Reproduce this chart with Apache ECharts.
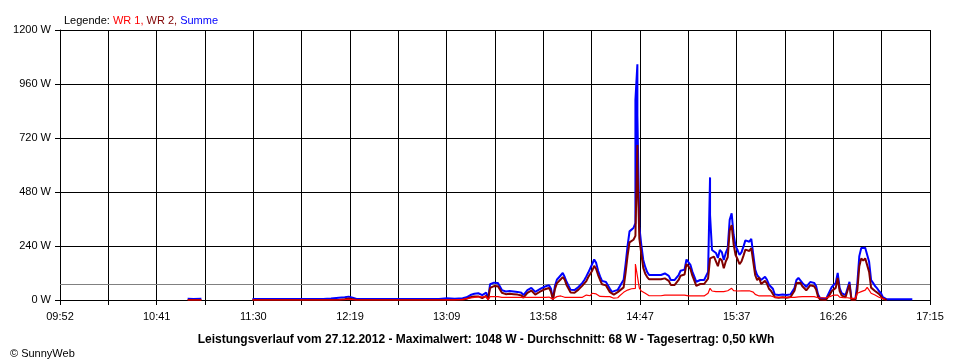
<!DOCTYPE html>
<html>
<head>
<meta charset="utf-8">
<script src="https://cdn.jsdelivr.net/npm/echarts@6/dist/echarts.min.js"></script>
<style>
html,body{margin:0;padding:0;background:#fff;}
#chart{width:960px;height:360px;}
</style>
</head>
<body>
<div id="chart"></div>
<script>
// Time axis tick labels (every second vertical grid line)
const tickLabels = ["09:52","10:41","11:30","12:19","13:09","13:58","14:47","15:37","16:26","17:15"];
const yTicks = [0, 240, 480, 720, 960, 1200];
const average = 68;

const times = [
"10:57","11:00","11:04","11:05","11:30","11:45","12:00","12:06","12:07","12:10",
"12:14","12:17","12:19","12:21","12:23","12:40","13:00","13:05","13:09","13:13",
"13:17","13:19","13:21","13:23","13:25","13:27","13:29","13:30","13:31","13:33",
"13:35","13:36","13:37","13:39","13:41","13:43","13:45","13:47","13:48","13:50",
"13:52","13:54","13:55","13:57","13:59","14:00","14:01","14:02","14:03","14:04",
"14:05","14:07","14:08","14:09","14:10","14:12","14:14","14:16","14:18","14:19",
"14:20","14:21","14:22","14:23","14:24","14:25","14:26","14:27","14:28","14:30",
"14:32","14:33","14:34","14:36","14:37","14:39","14:40","14:41","14:42","14:43",
"14:44","14:45","14:45","14:46","14:46","14:46","14:47","14:48","14:49","14:50",
"14:51","14:52","14:55","14:58","15:00","15:02","15:03","15:05","15:07","15:08",
"15:10","15:11","15:12","15:13","15:14","15:15","15:16","15:17","15:18","15:19",
"15:20","15:21","15:22","15:23","15:23","15:24","15:25","15:26","15:27","15:28",
"15:29","15:30","15:31","15:32","15:33","15:34","15:35","15:36","15:37","15:38",
"15:39","15:40","15:41","15:42","15:43","15:44","15:45","15:46","15:47","15:48",
"15:49","15:50","15:51","15:52","15:53","15:54","15:55","15:56","15:58","16:00",
"16:02","16:04","16:05","16:06","16:07","16:08","16:09","16:10","16:11","16:12",
"16:13","16:14","16:15","16:16","16:17","16:18","16:19","16:20","16:22","16:23",
"16:24","16:25","16:26","16:27","16:28","16:29","16:30","16:31","16:32","16:33",
"16:34","16:35","16:37","16:38","16:39","16:40","16:41","16:42","16:43","16:44",
"16:45","16:46","16:47","16:48","16:49","16:50","16:51","16:52","16:53","17:06"
];

const summe = [
6,5,6,null,4,4,4,5,9,7,
10,12,15,10,5,4,4,5,8,6,
8,12,22,28,30,22,33,5,70,77,
76,68,44,38,40,38,36,32,22,44,
54,36,44,52,60,67,66,50,3,62,
90,110,120,102,80,45,44,58,76,89,
105,122,115,160,180,165,130,105,85,80,
50,36,32,45,53,90,160,240,305,308,
320,342,890,1048,560,822,325,245,178,147,
124,111,111,111,118,107,89,89,111,130,
135,180,185,156,126,104,81,74,89,95,
89,96,125,545,378,222,230,209,187,222,
213,178,209,231,356,385,290,240,222,200,
212,237,265,270,259,272,267,135,110,117,
89,96,103,90,68,59,50,24,22,24,
22,25,24,53,89,98,92,76,67,58,
65,80,80,76,62,25,9,4,4,12,
40,58,65,76,120,53,31,28,22,18,
81,4,4,74,195,231,236,232,236,170,
89,76,62,53,40,31,13,5,3,3
];

const wr2 = [
0,0,0,null,0,0,0,0,0,0,
0,3,7,3,0,0,0,0,0,0,
1,5,12,16,16,8,18,3,54,62,
61,54,32,26,28,26,24,20,10,32,
42,24,32,40,48,54,53,37,2,48,
74,92,102,90,65,33,32,46,64,72,
84,102,96,130,152,138,111,89,70,65,
35,29,24,35,34,56,122,196,256,258,
268,285,290,689,556,600,274,205,143,117,
102,92,92,92,96,85,67,67,89,108,
113,160,167,138,108,86,63,56,71,77,
71,78,95,185,180,180,193,172,150,185,
176,141,171,190,308,333,248,200,182,159,
171,196,224,229,218,231,232,110,88,99,
71,78,85,72,50,41,34,12,10,12,
10,13,12,41,76,84,77,61,52,43,
50,65,65,61,47,15,2,0,0,3,
25,40,43,54,98,40,21,18,12,8,
70,0,0,44,150,185,175,185,180,125,
55,50,40,37,27,20,6,1,0,null
];

const wr1 = [
0,0,0,null,0,0,0,0,0,0,
1,2,3,2,0,0,0,0,1,1,
3,6,9,12,14,14,15,2,15,15,
15,14,12,12,12,12,12,12,12,12,
12,12,12,12,12,13,13,13,4,12,
15,18,17,12,15,12,12,12,12,16,
22,20,19,30,28,27,19,16,15,15,
15,7,8,10,19,34,38,44,49,50,
52,52,160,163,160,160,53,40,35,30,
22,19,19,19,22,22,22,22,22,22,
22,20,18,18,18,18,18,18,18,18,
18,18,30,52,52,40,37,37,37,37,
37,37,38,41,48,52,42,40,40,41,
41,41,41,41,41,41,35,25,22,18,
18,18,18,18,18,18,16,12,12,12,
12,12,12,12,13,14,15,15,15,15,
15,15,15,15,15,10,10,10,10,10,
15,18,22,22,22,13,10,10,10,10,
10,7,7,30,34,37,40,44,56,44,
30,26,22,15,12,10,6,4,null,null
];

const START = 9 * 60 + 52;
const SPAN = 443;             // 09:52 .. 17:15 in minutes
const STEP = SPAN / 18;       // one vertical grid line
function toMin(t) { const p = t.split(':'); return (+p[0]) * 60 + (+p[1]) - START; }
function pts(vals) { return times.map((t, i) => [toMin(t), vals[i] == null ? null : vals[i]]); }

const FONT = 'Liberation Sans';
const chart = echarts.init(document.getElementById('chart'), null, {renderer: 'canvas'});
chart.setOption({
  animation: false,
  backgroundColor: '#ffffff',
  textStyle: {fontFamily: FONT},
  title: [
    {
      text: '{k|Legende: }{a|WR 1, }{b|WR 2, }{c|Summe}',
      left: 59, top: 10,
      textStyle: {
        fontWeight: 'normal',
        rich: {
          k: {color: '#000', fontSize: 11, fontWeight: 'normal', fontFamily: FONT},
          a: {color: '#ff0000', fontSize: 11, fontWeight: 'normal', fontFamily: FONT},
          b: {color: '#800000', fontSize: 11, fontWeight: 'normal', fontFamily: FONT},
          c: {color: '#0000ff', fontSize: 11, fontWeight: 'normal', fontFamily: FONT}
        }
      }
    },
    {
      text: 'Leistungsverlauf vom 27.12.2012 - Maximalwert: 1048 W - Durchschnitt: 68 W - Tagesertrag: 0,50 kWh',
      left: 481, top: 329, textAlign: 'center',
      textStyle: {fontSize: 12, fontWeight: 'bold', color: '#000', fontFamily: FONT}
    },
    {
      text: '© SunnyWeb',
      left: 5, top: 343,
      textStyle: {fontSize: 11, fontWeight: 'normal', color: '#000', fontFamily: FONT}
    }
  ],
  grid: {left: 60, right: 30, top: 30, bottom: 60, containLabel: false},
  xAxis: {
    type: 'value', min: 0, max: SPAN, interval: STEP,
    axisLine: {show: true, lineStyle: {color: '#000', width: 1}},
    axisTick: {show: true, length: 5, lineStyle: {color: '#000'}},
    splitLine: {show: true, lineStyle: {color: '#000', width: 1}},
    axisLabel: {
      color: '#000', fontSize: 11, fontFamily: FONT, margin: 11,
      showMinLabel: true, showMaxLabel: true, hideOverlap: false,
      formatter: function (v) {
        const idx = Math.round(v / STEP);
        return idx % 2 === 0 ? tickLabels[idx / 2] : '';
      }
    }
  },
  yAxis: {
    type: 'value', min: yTicks[0], max: yTicks[yTicks.length - 1], interval: 240,
    axisLine: {show: true, lineStyle: {color: '#000', width: 1}},
    axisTick: {show: true, length: 5, lineStyle: {color: '#000'}},
    splitLine: {show: true, lineStyle: {color: '#000', width: 1}},
    axisLabel: {color: '#000', fontSize: 11, fontFamily: FONT, margin: 9,
      formatter: function (v) { return String(Math.round(v)) + ' W'; }}
  },
  series: [
    {
      name: 'Summe', type: 'line', data: pts(summe), showSymbol: false, connectNulls: false,
      lineStyle: {color: '#0000ff', width: 2}, itemStyle: {color: '#0000ff'}, z: 3,
      markLine: {
        silent: true, symbol: 'none', label: {show: false},
        lineStyle: {color: '#808080', width: 1, type: 'solid'},
        data: [{yAxis: average}], z: 1
      }
    },
    {
      name: 'WR 2', type: 'line', data: pts(wr2), showSymbol: false, connectNulls: false,
      lineStyle: {color: '#800000', width: 2}, itemStyle: {color: '#800000'}, z: 4
    },
    {
      name: 'WR 1', type: 'line', data: pts(wr1), showSymbol: false, connectNulls: false,
      lineStyle: {color: '#ff0000', width: 1.2}, itemStyle: {color: '#ff0000'}, z: 5
    }
  ]
});
</script>
</body>
</html>
